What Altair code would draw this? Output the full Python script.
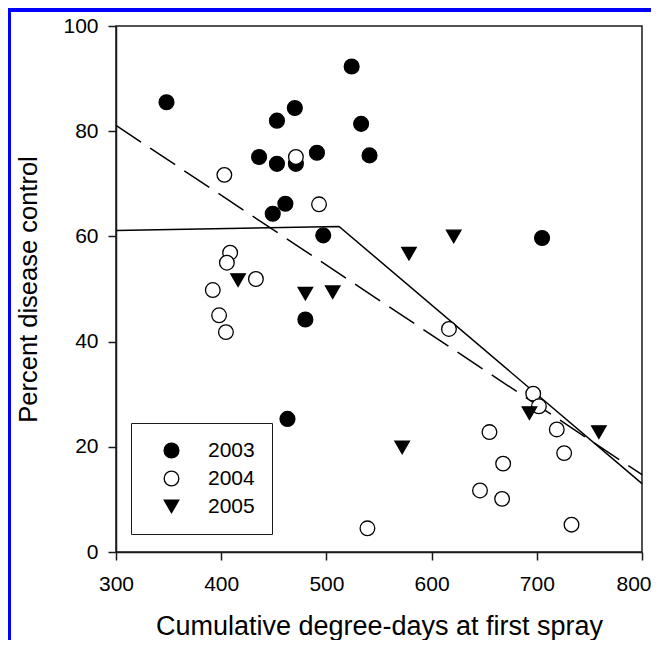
import altair as alt
import pandas as pd

# ---- data ----
years = ["2003", "2004", "2005"]

x2003 = [348, 453, 470, 436, 453, 471, 491, 524, 533, 541, 461, 449, 497, 705, 480, 463]
y2003 = [85.5, 82.0, 84.4, 75.1, 73.8, 73.8, 75.9, 92.3, 81.4, 75.4, 66.2, 64.3, 60.2, 59.7, 44.2, 25.3]

x2004 = [403, 471, 493, 408.5, 405.4, 392, 433, 398, 404.5, 539, 616.5, 696.6, 702, 655, 719, 726, 668, 646, 667, 733]
y2004 = [71.7, 75.1, 66.1, 56.9, 55.0, 49.8, 51.9, 45.0, 41.8, 4.5, 42.4, 30.1, 27.7, 22.8, 23.3, 18.8, 16.8, 11.7, 10.1, 5.2]

x2005 = [416, 480, 506, 578.5, 621, 572, 693, 759]
y2005 = [51.7, 49.1, 49.4, 56.7, 60.0, 19.9, 26.4, 22.8]

# segmented (solid) fit and linear (dashed) fit
seg_x = [300, 512, 800]
seg_y = [61.1, 61.9, 13.0]
lin_x = [300, 800]
lin_y = [81.1, 14.7]

x_ticks = [300, 400, 500, 600, 700, 800]
y_ticks = [0, 20, 40, 60, 80, 100]

# ---- tables ----
rows = []
for yr, xs, ys in zip(years, [x2003, x2004, x2005], [y2003, y2004, y2005]):
    for a, b in zip(xs, ys):
        rows.append({"dd": a, "pct": b, "year": yr})
pts = pd.DataFrame(rows)
seg = pd.DataFrame({"dd": seg_x, "pct": seg_y})
lin = pd.DataFrame({"dd": lin_x, "pct": lin_y})
dummy = pd.DataFrame({"a": [0]})

FONT = "Liberation Sans"
INK = "#1a1a1a"

xscale = alt.Scale(domain=[300, 800], nice=False, zero=False)
yscale = alt.Scale(domain=[0, 100], nice=False, zero=False)

xaxis = alt.Axis(values=x_ticks, grid=False, tickSize=8, tickWidth=1.5, tickColor=INK,
                 domainColor=INK, domainWidth=1.5, labelFont=FONT, labelFontSize=21,
                 labelColor="black", labelPadding=13, labelFlush=False,
                 labelAlign={"condition": {"test": "datum.value == 800", "value": "right"}, "value": "center"},
                 labelOffset={"condition": {"test": "datum.value == 800", "value": 9}, "value": 0},
                 title="Cumulative degree-days at first spray", titleFont=FONT,
                 titleFontSize=27, titleFontWeight="normal", titleColor="black",
                 titleX=263, titleY=82, titleBaseline="alphabetic", titleAlign="center")
yaxis = alt.Axis(values=y_ticks, grid=False, tickSize=8, tickWidth=1.5, tickColor=INK,
                 domainColor=INK, domainWidth=1.5, labelFont=FONT, labelFontSize=21,
                 labelColor="black", labelPadding=10, labelFlush=False,
                 title="Percent disease control", titleFont=FONT,
                 titleFontSize=25.5, titleFontWeight="normal", titleColor="black",
                 titleX=-80, titleY=263, titleBaseline="alphabetic", titleAlign="center",
                 titleAngle=270)

legend = alt.Legend(title=None, orient="none", legendX=15, legendY=397,
                    strokeColor=INK, fillColor="white", padding=17,
                    symbolOffset=13, labelFont=FONT, labelFontSize=21, labelColor="black",
                    labelOffset=26, rowPadding=6, symbolStrokeColor="black",
                    symbolStrokeWidth=1.3)

X = alt.X("dd:Q", scale=xscale, axis=xaxis)
Y = alt.Y("pct:Q", scale=yscale, axis=yaxis)

solid = alt.Chart(seg).mark_line(color="black", strokeWidth=1.5).encode(x=X, y=Y)
dashed = alt.Chart(lin).mark_line(color="black", strokeWidth=1.5, strokeDash=[30, 11]).encode(x=X, y=Y)

points = alt.Chart(pts).mark_point(filled=True, strokeWidth=1.3, opacity=1).encode(
    x=X, y=Y,
    fill=alt.Fill("year:N", scale=alt.Scale(domain=years, range=["black", "white", "black"]), legend=legend),
    stroke=alt.Stroke("year:N", scale=alt.Scale(domain=years, range=["black", "black", "black"]), legend=legend),
    shape=alt.Shape("year:N", scale=alt.Scale(domain=years, range=["circle", "circle", "triangle-down"]), legend=legend),
    size=alt.Size("year:N", scale=alt.Scale(domain=years, range=[220, 210, 250]), legend=legend),
)

BLUE = "#0000ff"
border_left = alt.Chart(dummy).mark_rule(color=BLUE, strokeWidth=3).encode(
    x=alt.value(-106.5), y=alt.value(-18), y2=alt.value(640))
border_top = alt.Chart(dummy).mark_rule(color=BLUE, strokeWidth=4).encode(
    y=alt.value(-16), x=alt.value(-108), x2=alt.value(560))

chart = alt.layer(dashed, solid, points, border_left, border_top).properties(
    width=526, height=526,
    autosize=alt.AutoSizeParams(type="none"),
    padding={"left": 108, "top": 18, "right": 9, "bottom": 88},
    background="white",
).configure_view(stroke=INK, strokeWidth=1.5)

chart.save("out.html", embed_options={"renderer": "svg", "actions": False})
